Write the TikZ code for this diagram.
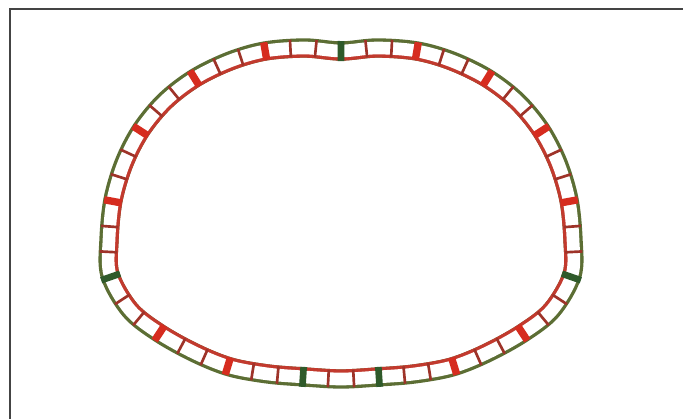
\documentclass[tikz,border=0pt]{standalone}
\usepackage{xcolor}
\usepackage{tikz}
\usetikzlibrary{decorations.markings}
\definecolor{trkgreen}{HTML}{5C6E34}
\definecolor{trkred}{HTML}{C23A2E}
\definecolor{trkmaroon}{HTML}{9E3329}
\definecolor{trkbright}{HTML}{D62C1F}
\definecolor{trkdark}{HTML}{2F5A2A}
\definecolor{framegray}{HTML}{444444}

% centre line of the track (pixel units, y down)
\def\trackpath{plot[smooth cycle, tension=0.55] coordinates {
    (377,48) (341,51) (305,48) (265,51) (230,61) (195,78) (165,101)
    (141,130) (124,163) (113,200) (109,240) (110,275) (130,310) (159,333)
    (195,353) (230,367) (268,374) (305,377) (341,379) (377,377) (414,374)
    (452,367) (487,353) (523,333) (552,310) (572,275) (573,240) (569,200)
    (558,163) (541,130) (517,101) (487,78) (452,61) (417,51)}}

\begin{document}
\begin{tikzpicture}[
    x=0.03cm, y=-0.03cm,
    railout/.style={line width=0.58cm, draw=trkgreen},
    railin/.style={line width=0.58cm, draw=trkred},
    railgap/.style={line width=0.38cm, draw=white},
    tie/.style={line width=0.08cm, draw=trkmaroon},
    redtie/.style={line width=0.22cm, draw=trkbright},
    greentie/.style={line width=0.2cm, draw=trkdark},
]
    \useasboundingbox (0,0) rectangle (683,419);

    % frame
    \draw[framegray, line width=1.3pt] (10,419) -- (10,9) -- (683,9);

    % rails: green outside, red inside
    \draw[railout] \trackpath;
    \begin{scope}
        \clip \trackpath;
        \draw[railin] \trackpath;
    \end{scope}
    \draw[railgap] \trackpath;

    % ties, 51 of them
    \path[postaction={decorate}, decoration={markings,
        mark=between positions 0 and 0.995 step 1/51 with
            {\draw[tie] (0,-0.26cm) -- (0,0.26cm);}}] \trackpath;

    % every third tie is marked
    \foreach \i in {3,6,9,12,18,21,30,33,39,42,45,48}
        \path[postaction={decorate}, decoration={markings,
            mark=at position \i/51 with
                {\draw[redtie] (0,-0.26cm) -- (0,0.26cm);}}] \trackpath;
    \foreach \i in {0.001,15,24,27,36}
        \path[postaction={decorate}, decoration={markings,
            mark=at position \i/51 with
                {\draw[greentie] (0,-0.3cm) -- (0,0.3cm);}}] \trackpath;
\end{tikzpicture}
\end{document}
